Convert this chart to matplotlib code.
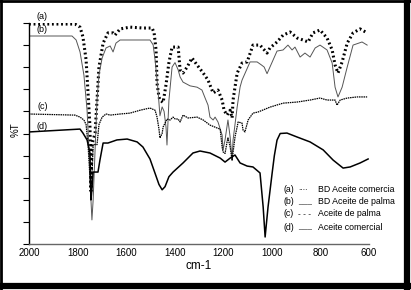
import matplotlib.pyplot as plt
from matplotlib.lines import Line2D

# FTIR spectra, wavenumber (cm-1) vs %T
wn_a = [2000, 1811, 1790, 1778, 1765, 1757, 1749, 1745, 1741, 1728, 1720, 1712, 1695, 1675,
        1654, 1646, 1625, 1584, 1531, 1493, 1485, 1477, 1473, 1465, 1461, 1448, 1436, 1424,
        1411, 1399, 1386, 1378, 1366, 1349, 1329, 1308, 1283, 1263, 1242, 1222, 1205, 1197,
        1185, 1172, 1164, 1160, 1152, 1143, 1123, 1102, 1078, 1049, 1020, 1008, 979, 954,
        925, 896, 872, 851, 831, 802, 773, 752, 740, 728, 711, 690, 666, 637, 608]
t_a = [99.4, 99.4, 98.0, 93.6, 83.2, 68.3, 52.9, 24.0, 45.0, 50.2, 65.1, 80.0, 90.8, 95.4,
       95.4, 94.4, 97.2, 98.0, 97.6, 97.6, 95.4, 87.7, 72.7, 66.5, 65.1, 64.0, 72.0, 82.0,
       89.0, 89.0, 89.0, 78.7, 77.3, 80.0, 84.1, 80.9, 77.3, 74.1, 68.3, 69.6, 65.1, 60.5,
       58.3, 60.5, 57.0, 65.1, 70.9, 77.3, 81.8, 82.3, 89.9, 89.9, 86.3, 88.6, 91.3, 94.4,
       95.8, 93.1, 92.2, 91.3, 95.4, 96.7, 93.1, 87.7, 80.9, 77.3, 82.3, 90.8, 95.4, 97.2, 95.4]

wn_b = [2000, 1823, 1806, 1790, 1774, 1761, 1753, 1745, 1741, 1736, 1728, 1720, 1712, 1699,
        1683, 1666, 1654, 1642, 1625, 1502, 1489, 1481, 1469, 1461, 1452, 1444, 1436, 1432,
        1424, 1411, 1399, 1386, 1378, 1366, 1337, 1308, 1288, 1275, 1263, 1255, 1242, 1234,
        1222, 1205, 1201, 1193, 1181, 1172, 1164, 1160, 1143, 1131, 1123, 1090, 1061, 1044,
        1032, 1020, 1008, 979, 954, 934, 917, 905, 884, 864, 843, 822, 802, 773, 752, 740,
        728, 711, 690, 666, 629, 608]
t_b = [94.0, 94.0, 92.2, 86.8, 76.4, 60.5, 42.6, 20.0, 11.0, 20.0, 42.6, 65.1, 76.4, 84.1,
       88.6, 89.5, 86.8, 90.8, 92.2, 92.2, 90.0, 83.2, 69.6, 58.0, 62.0, 60.0, 52.9, 44.8,
       65.0, 80.0, 82.0, 78.7, 75.5, 73.2, 71.5, 70.9, 69.6, 66.0, 62.8, 57.4, 56.1, 57.4,
       55.2, 49.3, 42.6, 47.1, 56.1, 48.4, 38.0, 47.0, 62.0, 71.0, 74.1, 82.3, 82.3, 81.0,
       80.0, 77.0, 80.0, 87.2, 87.7, 89.9, 87.7, 89.0, 84.5, 86.3, 84.5, 88.6, 89.9, 87.7,
       81.8, 70.9, 66.5, 70.9, 80.0, 89.9, 91.3, 89.9]

wn_c = [2000, 1811, 1790, 1774, 1765, 1757, 1749, 1745, 1741, 1736, 1720, 1712, 1699, 1683,
        1666, 1625, 1584, 1543, 1502, 1481, 1473, 1465, 1461, 1452, 1448, 1432, 1419, 1407,
        1399, 1386, 1378, 1366, 1345, 1308, 1283, 1255, 1226, 1213, 1205, 1201, 1193, 1185,
        1181, 1172, 1164, 1152, 1139, 1123, 1119, 1111, 1098, 1078, 1057, 1008, 954, 896,
        843, 802, 773, 740, 732, 719, 690, 649, 608]
t_c = [58.8, 58.3, 57.4, 56.1, 54.0, 45.0, 30.0, 22.0, 30.0, 45.0, 45.0, 54.0, 57.4, 58.8,
       58.3, 58.8, 59.2, 60.5, 61.5, 60.5, 57.4, 52.0, 48.0, 50.0, 52.9, 56.5, 56.1, 57.4,
       56.6, 56.5, 55.2, 58.3, 57.0, 57.4, 56.1, 53.8, 52.5, 52.0, 43.9, 41.7, 41.0, 46.0,
       48.0, 44.0, 38.0, 48.4, 55.2, 54.7, 51.6, 50.7, 56.1, 59.2, 59.7, 61.9, 63.7, 64.2,
       65.1, 66.0, 65.1, 65.1, 62.8, 65.1, 66.0, 66.5, 66.5]

wn_d = [2000, 1790, 1778, 1761, 1749, 1745, 1741, 1736, 1728, 1716, 1708, 1695, 1675, 1638,
        1596, 1555, 1531, 1502, 1481, 1465, 1452, 1440, 1424, 1407, 1366, 1325, 1296, 1255,
        1213, 1193, 1172, 1152, 1131, 1102, 1078, 1049, 1036, 1028, 1016, 999, 990, 979,
        966, 938, 896, 843, 789, 748, 707, 678, 637, 604]
t_d = [50.7, 52.0, 50.2, 47.1, 41.2, 20.0, 25.0, 32.6, 32.6, 32.6, 38.0, 45.7, 45.7, 47.1,
       47.5, 46.2, 43.9, 38.5, 32.0, 27.0, 24.6, 26.0, 30.5, 32.6, 36.7, 41.2, 42.1, 41.2,
       38.9, 37.1, 38.9, 40.3, 36.7, 35.3, 34.9, 32.2, 16.8, 3.3, 16.8, 32.2, 40.0, 47.0,
       50.0, 50.2, 48.4, 46.2, 42.6, 38.0, 34.4, 34.9, 36.7, 38.5]

legend_keys = ["(a)", "(b)", "(c)", "(d)"]
legend_marks = ["....", "___", "- - -", "___"]
legend_names = ["BD Aceite comercia", "BD Aceite de palma", "Aceite de palma", "Aceite comercial"]
curve_tags = ["(a)", "(b)", "(c)", "(d)"]
tag_t = [103, 97, 62, 53]

plt.rcParams["font.family"] = ["Liberation Sans Narrow", "Liberation Sans", "DejaVu Sans"]

fig = plt.figure(figsize=(4.11, 2.90), dpi=100)
ax = fig.add_axes([0.0706, 0.1576, 0.8274, 0.7641])

ax.plot(wn_a, t_a, color="black", linestyle=(0, (0.6, 0.9)), linewidth=2.2)
ax.plot(wn_b, t_b, color="#555555", linewidth=0.7)
ax.plot(wn_c, t_c, color="black", linestyle=(0, (1.2, 0.6)), linewidth=0.9)
ax.plot(wn_d, t_d, color="black", linewidth=1.1)

ax.set_xlim(2000, 600)
ax.set_ylim(0, 100)
ax.set_xticks([2000, 1800, 1600, 1400, 1200, 1000, 800, 600])
ax.set_yticks(range(0, 101, 10))
ax.set_yticklabels([])
ax.tick_params(axis="x", length=0, labelsize=7, pad=3)
ax.tick_params(axis="y", length=4, width=0.8, direction="out")
for side in ["top", "right"]:
    ax.spines[side].set_visible(False)
ax.spines["left"].set_linewidth(1.0)
ax.spines["bottom"].set_color("#666666")
ax.spines["bottom"].set_linewidth(1.0)

ax.set_xlabel("cm-1", fontsize=8.5, labelpad=1)
ax.set_ylabel("%T", fontsize=7)
ax.yaxis.set_label_coords(-0.026, 0.516)

for tag, t in zip(curve_tags, tag_t):
    ax.text(1945, t, tag, fontsize=6.5, ha="center", va="center", clip_on=False)

# hand-made legend in the lower right
ys = [189, 202, 214, 227]
for key, mark, name, y in zip(legend_keys, legend_marks, legend_names, ys):
    fy = 1 - y / 290
    fig.text(283 / 411, fy, key, fontsize=6.3, va="center", ha="left")
    fig.text(298 / 411, fy, mark, fontsize=6, va="center", ha="left")
    fig.text(318 / 411, fy, name, fontsize=6.3, va="center", ha="left")

# black border around the picture, heavier on right and bottom
W, H = 411, 290
border = [((1, 1), (0, H), 2.0), ((0, W), (H - 1, H - 1), 2.0),
          ((W - 4, W - 4), (0, H), 4.5), ((0, W), (4, 4), 4.5)]
for xs, ys_, lw in border:
    fig.add_artist(Line2D([x / W for x in xs], [y / H for y in ys_], color="black",
                          linewidth=lw, transform=fig.transFigure))

fig.savefig("out.png", dpi=100)
